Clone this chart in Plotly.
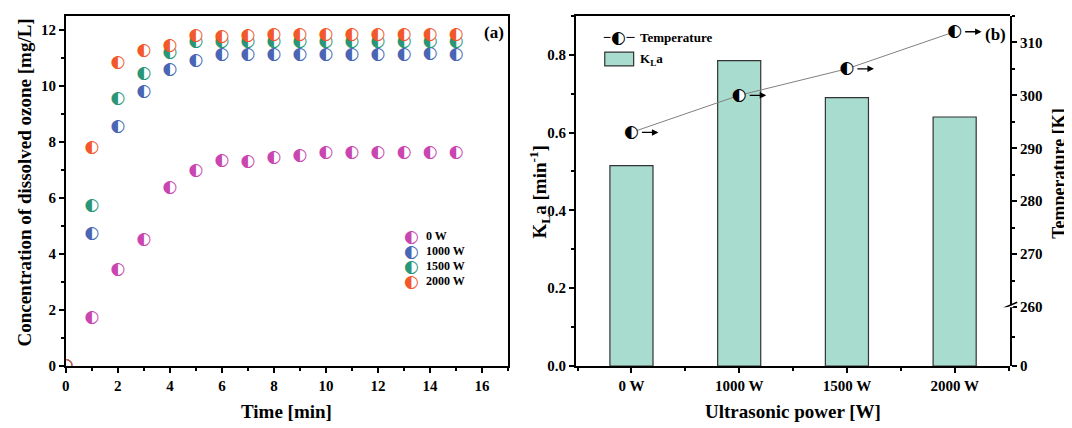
import plotly.graph_objects as go

# ---------------- data ----------------
time_min = [0, 1, 2, 3, 4, 5, 6, 7, 8, 9, 10, 11, 12, 13, 14, 15]
series_names = ["0 W", "1000 W", "1500 W", "2000 W"]
ozone_0w = [0, 1.73, 3.42, 4.50, 6.36, 6.96, 7.32, 7.30, 7.43, 7.52, 7.61, 7.61, 7.60, 7.60, 7.60, 7.60]
ozone_1000w = [0, 4.73, 8.53, 9.80, 10.57, 10.90, 11.12, 11.12, 11.12, 11.12, 11.12, 11.12, 11.12, 11.12, 11.13, 11.10]
ozone_1500w = [0, 5.71, 9.54, 10.43, 11.20, 11.56, 11.56, 11.56, 11.56, 11.56, 11.56, 11.56, 11.56, 11.56, 11.56, 11.56]
ozone_2000w = [0, 7.80, 10.83, 11.25, 11.44, 11.79, 11.77, 11.80, 11.82, 11.82, 11.82, 11.82, 11.82, 11.82, 11.82, 11.82]
series_colors = ["#c946b0", "#4866b4", "#2a9678", "#f2582a"]

power_labels = ["0 W", "1000 W", "1500 W", "2000 W"]
kla_values = [0.515, 0.785, 0.690, 0.640]
temperature_K = [293.0, 300.0, 305.0, 312.0]

# ---------------- geometry (page has an 8px body margin) ----------------
OFF = 8
W, H = 1072 - OFF, 428 - OFF


def fx(sx):
    return (sx - OFF) / W


def fy(sy):
    return 1 - (sy - OFF) / H


# ---------------- styling ----------------
SERIF = "Liberation Serif"
GLYPH = "DejaVu Sans"
tickfont = dict(family=SERIF, size=15, color="black", weight="bold")
titlefont = dict(family=SERIF, size=19, color="black", weight="bold")
AX = dict(showline=True, linecolor="black", linewidth=1.5, ticks="outside",
          ticklen=5, tickwidth=1.5, tickcolor="black", showgrid=False,
          zeroline=False, tickfont=tickfont)
MINOR = dict(ticks="outside", ticklen=3, tickwidth=1.5, tickcolor="black")

fig = go.Figure()

# ---------------- panel (a) ----------------
all_series = [ozone_0w, ozone_1000w, ozone_1500w, ozone_2000w]
for name, vals, col in zip(series_names, all_series, series_colors):
    fig.add_trace(go.Scatter(
        x=time_min, y=vals, mode="markers+text", name=name,
        marker=dict(size=11, color="white", line=dict(width=0)),
        text=["◐"] * len(vals), textposition="middle center",
        textfont=dict(family=GLYPH, size=17, color=col),
        xaxis="x", yaxis="y", showlegend=False, cliponaxis=True))

# ---------------- panel (b) ----------------
xpos = list(range(len(power_labels)))
fig.add_trace(go.Bar(
    x=xpos, y=kla_values, width=0.4, name="KLa",
    marker=dict(color="#a8dccf", line=dict(color="#333333", width=1.2)),
    xaxis="x2", yaxis="y2", showlegend=False))
fig.add_trace(go.Scatter(
    x=xpos, y=temperature_K, mode="lines+markers+text", name="Temperature",
    line=dict(color="#808080", width=1),
    marker=dict(size=11, color="white", line=dict(width=0)),
    text=["◐"] * len(temperature_K), textposition="middle center",
    textfont=dict(family=GLYPH, size=17, color="black"),
    xaxis="x2", yaxis="y3", showlegend=False, cliponaxis=False))
# empty trace so the lower (broken) part of the right axis is drawn
fig.add_trace(go.Scatter(x=[None], y=[None], mode="markers", xaxis="x2", yaxis="y4",
                         showlegend=False, hoverinfo="skip"))

ya_bot, ya_top = fy(373), fy(16)
brk = fy(313)
xa_dom = [fx(62), fx(506)]
xb_dom = [fx(574), fx(1010)]

fig.update_layout(
    width=W, height=H, margin=dict(l=0, r=0, t=0, b=0),
    paper_bgcolor="white", plot_bgcolor="rgba(0,0,0,0)",
    xaxis=dict(AX, domain=xa_dom, range=[0, 17], tickvals=list(range(0, 17, 2)),
               mirror=True, minor=dict(MINOR, dtick=1, tick0=0), anchor="y"),
    yaxis=dict(AX, domain=[ya_bot, ya_top], range=[0, 12.5], tickvals=list(range(0, 13, 2)),
               mirror=True, minor=dict(MINOR, dtick=1, tick0=0), anchor="x"),
    xaxis2=dict(AX, domain=xb_dom, range=[-0.516, 3.516], tickvals=xpos, ticktext=power_labels,
                mirror=True, anchor="y2",
                minor=dict(MINOR, tickvals=[-0.5, 0.5, 1.5, 2.5, 3.5])),
    yaxis2=dict(AX, domain=[ya_bot, ya_top], range=[0, 0.9], tickvals=[0, 0.2, 0.4, 0.6, 0.8],
                tickformat=".1f", anchor="x2", minor=dict(MINOR, dtick=0.1, tick0=0)),
    yaxis3=dict(AX, domain=[brk, ya_top], range=[260, 315], tickvals=[260, 270, 280, 290, 300, 310],
                anchor="x2", side="right", minor=dict(MINOR, dtick=5, tick0=260)),
    yaxis4=dict(AX, domain=[ya_bot, brk], range=[0, 260], tickvals=[0],
                anchor="x2", side="right", minor=dict(MINOR, tickvals=[130])),
)

ann = []
# axis titles
ann.append(dict(text="Time [min]", xref="paper", yref="paper", x=sum(xa_dom) / 2, y=fy(419),
                xanchor="center", yanchor="middle", showarrow=False, font=titlefont))
ann.append(dict(text="Concentration of dissolved ozone [mg/L]", xref="paper", yref="paper",
                x=fx(21), y=fy(186), textangle=-90, xanchor="center", yanchor="middle",
                showarrow=False, font=titlefont))
ann.append(dict(text="Ultrasonic power [W]", xref="paper", yref="paper", x=sum(xb_dom) / 2, y=fy(419),
                xanchor="center", yanchor="middle", showarrow=False, font=titlefont))
ann.append(dict(text="K<sub>L</sub>a [min<sup>-1</sup>]", xref="paper", yref="paper",
                x=fx(537), y=fy(196), textangle=-90, xanchor="center", yanchor="middle",
                showarrow=False, font=titlefont))
ann.append(dict(text="Temperature [K]", xref="paper", yref="paper",
                x=fx(1059), y=fy(177), textangle=-90, xanchor="center", yanchor="middle",
                showarrow=False, font=dict(titlefont, size=18)))
# panel labels
ann.append(dict(text="(a)", xref="paper", yref="paper", x=fx(492), y=fy(33), xanchor="center",
                yanchor="middle", showarrow=False, font=dict(family=SERIF, size=17, color="black", weight="bold")))
ann.append(dict(text="(b)", xref="paper", yref="paper", x=fx(995), y=fy(35), xanchor="center",
                yanchor="middle", showarrow=False, font=dict(family=SERIF, size=17, color="black", weight="bold")))
# arrows pointing to the right axis
for xp, tv in zip(xpos, temperature_K):
    ann.append(dict(x=xp, y=tv, xref="x2", yref="y3", text="", showarrow=True, arrowhead=2,
                    arrowsize=1, arrowwidth=1.3, arrowcolor="black", ax=-18, ay=0, xshift=27))
# legend (a)
leg_y = [4.63, 4.10, 3.58, 3.05]
for name, col, ly in zip(series_names, series_colors, leg_y):
    ann.append(dict(text="◐", x=13.3, y=ly, xref="x", yref="y", showarrow=False,
                    xanchor="center", yanchor="middle", font=dict(family=GLYPH, size=17, color=col)))
    ann.append(dict(text=name, x=13.75, y=ly, xref="x", yref="y", showarrow=False,
                    xanchor="left", yanchor="middle", font=dict(family=SERIF, size=12, color="black", weight="bold")))
# legend (b)
ann.append(dict(text="◐", x=fx(617), y=fy(38), xref="paper", yref="paper", showarrow=False,
                xanchor="center", yanchor="middle", bgcolor="white", borderpad=0,
                font=dict(family=GLYPH, size=17, color="black")))
ann.append(dict(text="Temperature", x=fx(636), y=fy(38), xref="paper", yref="paper", showarrow=False,
                xanchor="left", yanchor="middle", font=dict(family=SERIF, size=13, color="black", weight="bold")))
ann.append(dict(text="K<sub>L</sub>a", x=fx(636), y=fy(60), xref="paper", yref="paper", showarrow=False,
                xanchor="left", yanchor="middle", font=dict(family=SERIF, size=13, color="black", weight="bold")))
fig.update_layout(annotations=ann)

shapes = []
# legend (b) line + box
shapes.append(dict(type="line", xref="paper", yref="paper", x0=fx(602), x1=fx(633),
                   y0=fy(38), y1=fy(38), line=dict(color="black", width=1)))
shapes.append(dict(type="rect", xref="paper", yref="paper", x0=fx(603), x1=fx(632),
                   y0=fy(67), y1=fy(53), fillcolor="#a8dccf", line=dict(color="#333333", width=1.2)))
# axis break marks on the right axis
shapes.append(dict(type="rect", xref="x2 domain", yref="y3", xsizemode="pixel", ysizemode="pixel",
                   xanchor=1, x0=-3, x1=3, yanchor=260, y0=-4, y1=2, fillcolor="white",
                   line=dict(width=0)))
for off in (-3, 2):
    shapes.append(dict(type="line", xref="x2 domain", yref="y3", xsizemode="pixel", ysizemode="pixel",
                       xanchor=1, x0=-7, x1=7, yanchor=260, y0=off - 3, y1=off + 3,
                       line=dict(color="black", width=1.5)))
fig.update_layout(shapes=shapes)

fig.write_html("out.html")
